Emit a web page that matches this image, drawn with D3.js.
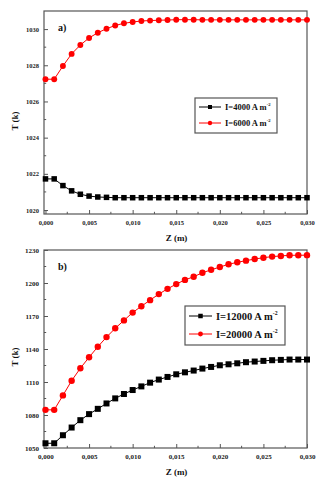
<!DOCTYPE html>
<html>
<head>
<meta charset="utf-8">
<script src="https://cdn.jsdelivr.net/npm/d3@7"></script>
<style>
  body { margin: 0; background: #fff; }
  svg { display: block; }
  text { font-family: "Liberation Serif", "Times New Roman", serif; font-weight: bold; }
</style>
</head>
<body>
<div id="chart"></div>
<script>
// Z positions (m), shared by both panels
const zValues = [0.000, 0.001, 0.002, 0.003, 0.004, 0.005, 0.006, 0.007, 0.008, 0.009,
  0.010, 0.011, 0.012, 0.013, 0.014, 0.015, 0.016, 0.017, 0.018, 0.019,
  0.020, 0.021, 0.022, 0.023, 0.024, 0.025, 0.026, 0.027, 0.028, 0.029, 0.030]

// panel a)
const tempA4000 = [1021.72, 1021.72, 1021.35, 1021.06, 1020.87, 1020.77, 1020.72, 1020.70, 1020.68, 1020.68,
  1020.68, 1020.68, 1020.68, 1020.68, 1020.68, 1020.68, 1020.68, 1020.68, 1020.68, 1020.68,
  1020.68, 1020.68, 1020.68, 1020.68, 1020.68, 1020.68, 1020.68, 1020.68, 1020.68, 1020.68, 1020.68]
const tempA6000 = [1027.23, 1027.23, 1027.96, 1028.63, 1029.12, 1029.51, 1029.80, 1030.02, 1030.20, 1030.32,
  1030.39, 1030.45, 1030.47, 1030.49, 1030.50, 1030.52, 1030.52, 1030.52, 1030.51, 1030.51,
  1030.51, 1030.51, 1030.51, 1030.51, 1030.51, 1030.51, 1030.51, 1030.51, 1030.51, 1030.51, 1030.51]

// panel b)
const tempB12000 = [1054.3, 1054.3, 1061.6, 1068.6, 1075.3, 1080.8, 1085.6, 1090.5, 1095.1, 1099.1,
  1102.7, 1106.0, 1109.4, 1112.2, 1114.6, 1117.0, 1118.8, 1120.4, 1122.2, 1123.7,
  1125.2, 1126.1, 1127.0, 1128.0, 1128.6, 1129.2, 1129.8, 1130.1, 1130.4, 1130.4, 1130.4]
const tempB20000 = [1084.7, 1084.7, 1097.8, 1111.2, 1122.5, 1132.5, 1142.0, 1150.8, 1158.8, 1166.0,
  1173.1, 1178.9, 1184.4, 1189.9, 1194.7, 1199.0, 1202.8, 1205.7, 1209.3, 1212.0,
  1214.5, 1217.0, 1218.8, 1220.3, 1221.8, 1223.0, 1224.0, 1224.6, 1225.2, 1225.2, 1225.3]

const xTicks = [0.000, 0.005, 0.010, 0.015, 0.020, 0.025, 0.030]
const yTicksA = [1020, 1022, 1024, 1026, 1028, 1030]
const yTicksB = [1050, 1080, 1110, 1140, 1170, 1200, 1230]

const labelsA = ["I=4000 A m", "I=6000 A m"]
const labelsB = ["I=12000 A m", "I=20000 A m"]

const width = 324
const height = 480
const axisColor = "#555"
const fmt = v => d3.format(".3f")(v).replace(".", ",")

const svg = d3.select("#chart").append("svg")
  .attr("width", width)
  .attr("height", height)

function panel(opts) {
  const g = svg.append("g")

  const x = d3.scaleLinear().domain([-0.00017, 0.030]).range([opts.left, opts.right])
  const y = d3.scaleLinear().domain(opts.yDomain).range([opts.bottom, opts.top])

  // frame
  g.append("rect")
    .attr("x", opts.left).attr("y", opts.top)
    .attr("width", opts.right - opts.left).attr("height", opts.bottom - opts.top)
    .attr("fill", "none").attr("stroke", axisColor).attr("stroke-width", 1.2)

  // bottom axis, inward ticks
  const xMinor = xTicks.slice(0, -1).map(t => t + 0.0025)
  const xa = g.append("g").attr("transform", "translate(0," + opts.bottom + ")")
  xa.call(d3.axisBottom(x).tickValues(xTicks).tickSize(-4).tickFormat(fmt).tickPadding(6))
  xa.select(".domain").remove()
  xa.selectAll(".tick line").attr("stroke", axisColor)
  xa.selectAll(".tick text").attr("font-size", opts.tickFont).attr("fill", "#222")
  xa.append("g").selectAll("line").data(xMinor).join("line")
    .attr("x1", d => x(d)).attr("x2", d => x(d))
    .attr("y1", 0).attr("y2", -2.2).attr("stroke", axisColor)

  // left axis, inward ticks
  const yTicks = opts.yTicks
  const step = yTicks[1] - yTicks[0]
  const yMinor = yTicks.map(t => t + step / 2).filter(t => t < opts.yDomain[1])
  const ya = g.append("g").attr("transform", "translate(" + opts.left + ",0)")
  ya.call(d3.axisLeft(y).tickValues(yTicks).tickSize(-4).tickFormat(d3.format("d")).tickPadding(5))
  ya.select(".domain").remove()
  ya.selectAll(".tick line").attr("stroke", axisColor)
  ya.selectAll(".tick text").attr("font-size", opts.tickFont).attr("fill", "#222")
  ya.append("g").selectAll("line").data(yMinor).join("line")
    .attr("y1", d => y(d)).attr("y2", d => y(d))
    .attr("x1", 0).attr("x2", 2.2).attr("stroke", axisColor)

  // axis titles
  g.append("text")
    .attr("x", (opts.left + opts.right) / 2 + 1).attr("y", opts.xTitleY)
    .attr("text-anchor", "middle").attr("font-size", 9).attr("fill", "#111")
    .text("Z (m)")
  g.append("text")
    .attr("transform", "translate(" + 18 + "," + opts.yTitleY + ") rotate(-90)")
    .attr("text-anchor", "middle").attr("font-size", 9).attr("fill", "#111")
    .text("T (k)")

  g.append("text")
    .attr("x", 58).attr("y", opts.top + 20)
    .attr("font-size", 10).attr("fill", "#111")
    .text(opts.tag)

  const line = d3.line().x((d, i) => x(zValues[i])).y(d => y(d))
  const series = [
    { values: opts.series[0], color: "#000", shape: "square" },
    { values: opts.series[1], color: "#ff0000", shape: "circle" }
  ]

  series.forEach(s => {
    g.append("path")
      .datum(s.values)
      .attr("d", line)
      .attr("fill", "none")
      .attr("stroke", s.color)
      .attr("stroke-width", 1)
    drawMarks(g, s, s.values.map((v, i) => [x(zValues[i]), y(v)]), opts.mark)
  })

  // legend
  const lg = opts.legend
  g.append("rect")
    .attr("x", lg.x).attr("y", lg.y).attr("width", lg.w).attr("height", lg.h)
    .attr("fill", "#fff").attr("stroke", axisColor).attr("stroke-width", 1.2)
  series.forEach((s, i) => {
    const cy = lg.y + lg.rows[i]
    g.append("line")
      .attr("x1", lg.x + 4).attr("x2", lg.x + lg.lineW)
      .attr("y1", cy).attr("y2", cy)
      .attr("stroke", s.color).attr("stroke-width", 1)
    drawMarks(g, s, [[lg.x + 4 + (lg.lineW - 4) / 2, cy]], lg.mark)
    const t = g.append("text")
      .attr("x", lg.x + lg.lineW + 4).attr("y", cy + lg.font * 0.35)
      .attr("font-size", lg.font).attr("fill", "#111")
    t.append("tspan").text(opts.labels[i])
    t.append("tspan").attr("dy", -lg.font * 0.45).attr("font-size", lg.font * 0.55).text("-2")
  })
}

function drawMarks(g, s, pts, size) {
  if (s.shape === "square") {
    g.append("g").selectAll("rect").data(pts).join("rect")
      .attr("x", d => d[0] - size / 2).attr("y", d => d[1] - size / 2)
      .attr("width", size).attr("height", size)
      .attr("fill", s.color)
  } else {
    g.append("g").selectAll("circle").data(pts).join("circle")
      .attr("cx", d => d[0]).attr("cy", d => d[1])
      .attr("r", size / 2 + 0.2)
      .attr("fill", s.color)
  }
}

panel({
  left: 44, right: 307, top: 11, bottom: 214,
  yDomain: [1019.78, 1031.0], yTicks: yTicksA,
  series: [tempA4000, tempA6000], labels: labelsA,
  tag: "a)", tickFont: 6.5, mark: 5.5,
  xTitleY: 241, yTitleY: 121,
  legend: { x: 195, y: 98, w: 82, h: 35, rows: [9, 25], lineW: 26, font: 8.5, mark: 4 }
})

panel({
  left: 44, right: 307, top: 250, bottom: 448,
  yDomain: [1050, 1230], yTicks: yTicksB,
  series: [tempB12000, tempB20000], labels: labelsB,
  tag: "b)", tickFont: 7, mark: 6,
  xTitleY: 475, yTitleY: 357,
  legend: { x: 185, y: 306, w: 100, h: 39, rows: [10, 28], lineW: 27, font: 10.5, mark: 4.5 }
})
</script>
</body>
</html>
